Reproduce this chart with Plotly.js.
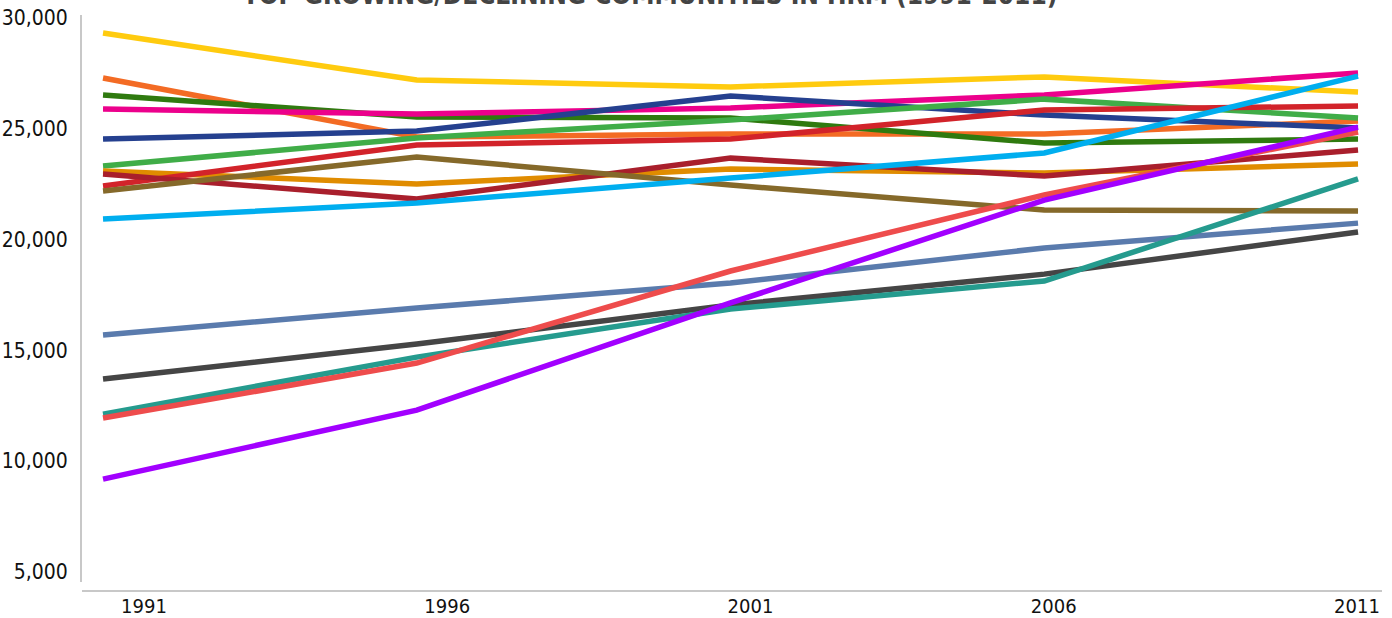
<!DOCTYPE html>
<html>
<head>
<meta charset="utf-8">
<script src="https://cdn.plot.ly/plotly-3.0.1.min.js"></script>
<style>html,body{margin:0;padding:0;background:#fff;}#chart{width:1392px;height:618px;}</style>
</head>
<body>
<div id="chart"></div>
<script>
const years = [1991, 1996, 2001, 2006, 2011];
const yearLabels = ["1991", "1996", "2001", "2006", "2011"];
const yTickVals = [5000, 10000, 15000, 20000, 25000, 30000];
const yTickText = ["5,000", "10,000", "15,000", "20,000", "25,000", "30,000"];

const s01 = [29300, 27180, 26870, 27320, 26640];
const s02 = [27270, 24610, 24750, 24750, 25330];
const s03 = [26510, 25510, 25470, 24340, 24520];
const s04 = [25870, 25650, 25920, 26510, 27500];
const s05 = [24520, 24880, 26460, 25600, 25020];
const s06 = [23300, 24570, 25380, 26320, 25470];
const s07 = [23080, 22490, 23170, 22990, 23400];
const s08 = [22400, 24250, 24520, 25830, 26010];
const s09 = [22940, 21820, 23660, 22850, 24030];
const s10 = [22180, 23710, 22450, 21320, 21280];
const s11 = [20910, 21640, 22760, 23890, 27360];
const s12 = [15690, 16900, 18030, 19610, 20730];
const s13 = [13700, 15280, 17040, 18430, 20330];
const s14 = [12120, 14690, 16860, 18120, 22720];
const s15 = [11940, 14420, 18570, 22000, 24840];
const s16 = [9190, 12300, 17130, 21770, 25060];

const seriesList = [s01, s02, s03, s04, s05, s06, s07, s08, s09, s10, s11, s12, s13, s14, s15, s16];
const colors = ["#FFCB0F", "#F36B24", "#2F7A0F", "#EC008C", "#25408F", "#40AD48", "#E08C00", "#D2232A",
                "#A91F2C", "#85692A", "#00AEEF", "#5A7BAD", "#454545", "#259B8E", "#EE4C4C", "#A200FF"];

const traces = seriesList.map((vals, i) => ({
  x: years, y: vals, type: "scatter", mode: "lines",
  name: "Community " + (i + 1),
  line: {color: colors[i], width: 5.5},
  hoverinfo: "x+y"
}));
// invisible trace to carry the label axis
traces.push({x: years, y: [null, null, null, null, null], xaxis: "x2", type: "scatter", mode: "lines", showlegend: false, hoverinfo: "skip"});

const fontFam = "'Liberation Sans Narrow', 'DejaVu Sans Condensed', 'Roboto', sans-serif";
const layout = {
  width: 1392, height: 618,
  margin: {l: 82, r: 10, t: 15, b: 27},
  paper_bgcolor: "#fff", plot_bgcolor: "#fff",
  showlegend: false,
  title: {
    text: "<b>TOP GROWING/DECLINING COMMUNITIES IN HRM (1991-2011)</b>",
    font: {family: fontFam, size: 26, color: "#444"},
    x: 0.467, xanchor: "center", xref: "container",
    y: 0.994, yanchor: "bottom", yref: "container"
  },
  xaxis: {
    range: [1990.665, 2011.382],
    showticklabels: false, showgrid: false, zeroline: false,
    showline: false, ticks: ""
  },
  xaxis2: {
    overlaying: "x", anchor: "free", position: 0,
    range: [1989.978, 2011.412],
    tickvals: years, ticktext: yearLabels,
    showgrid: false, zeroline: false,
    showline: true, linecolor: "#c8c8c8", linewidth: 2,
    ticks: "", ticklabelstandoff: -3,
    tickfont: {family: fontFam, size: 20, color: "#111"}
  },
  yaxis: {
    domain: [0.0156, 1],
    range: [4549, 30113],
    tickvals: yTickVals, ticktext: yTickText,
    showgrid: false, zeroline: false,
    showline: true, linecolor: "#c8c8c8", linewidth: 2,
    ticks: "", ticklabelstandoff: 8,
    tickfont: {family: fontFam, size: 21, color: "#111"}
  }
};
Plotly.newPlot("chart", traces, layout, {displayModeBar: false, responsive: false});
</script>
</body>
</html>
